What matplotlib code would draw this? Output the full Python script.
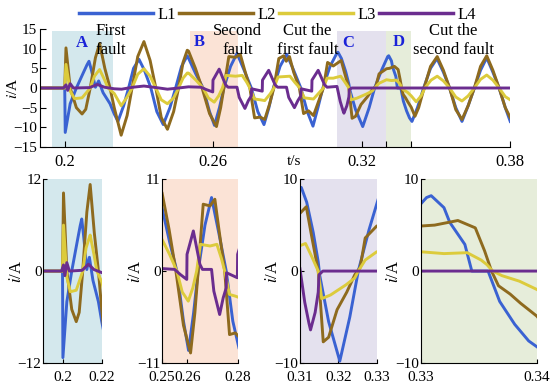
import matplotlib
matplotlib.use('Agg')
import matplotlib.pyplot as plt

plt.rcParams['font.family'] = ['Liberation Serif', 'DejaVu Serif']
plt.rcParams['mathtext.fontset'] = 'stix'
plt.rcParams['font.size'] = 11

# currents: (t in s, i in A)
t_L1 = [0.19, 0.2, 0.2002, 0.2022, 0.2047, 0.2076, 0.209, 0.2098, 0.2108, 0.2124, 0.2137, 0.2155, 0.2183, 0.22,
        0.2215, 0.2238, 0.2258, 0.2278, 0.23, 0.2322, 0.2348, 0.2372, 0.2398, 0.2425, 0.2448, 0.2472, 0.2495,
        0.25, 0.253, 0.2559, 0.2585, 0.2605, 0.2625, 0.2643, 0.267, 0.2696, 0.2725, 0.2754, 0.278, 0.2805,
        0.2825, 0.2843, 0.287, 0.2897, 0.2925, 0.2954, 0.298, 0.3003, 0.3023, 0.3043, 0.3072, 0.31, 0.3104,
        0.3118, 0.3135, 0.3148, 0.3152, 0.3175, 0.3204, 0.323, 0.3252, 0.328, 0.3305, 0.3309, 0.332, 0.3325,
        0.3338, 0.3344, 0.3358, 0.3368, 0.3381, 0.3393, 0.3403, 0.3425, 0.345, 0.3478, 0.3504, 0.353, 0.3555,
        0.358, 0.3605, 0.363, 0.3655, 0.368, 0.3705, 0.373, 0.3755, 0.378, 0.38]
i_L1 = [0, 0, -11.3, -4, 0, 4, 5.9, 6.8, 4.5, 0.2, 1.8, -1.2, -4, -6.6,
        -8.5, -4.5, 0, 5, 7.3, 4.5, 0, -6, -9.3, -5, 0, 5.5, 8.2,
        7.6, 3.5, 0, -6, -9.5, -5, 0, 5.5, 8.8, 4.5, 0, -6, -9.3,
        -5, 0, 5.5, 8.6, 4.5, 0, -6, -9.7, -5, 0, 5.5, 8.9, 9.1,
        7.5, 4.2, 1, -0.5, -5.5, -9.8, -5, 0, 4.5, 8.0, 8.2, 6.9, 5.3,
        2.9, 0, 0, -3.3, -5.8, -7.6, -8.5, -5, 0, 5, 7.5, 4, 0,
        -5, -8.5, -4.5, 0, 4.5, 7.7, 4, 0, -5, -8.5]

t_L2 = [0.19, 0.2, 0.2005, 0.2022, 0.2047, 0.207, 0.2085, 0.2103, 0.2124, 0.2141, 0.2162, 0.2183, 0.22,
        0.2228, 0.2252, 0.2272, 0.2295, 0.232, 0.2345, 0.2368, 0.239, 0.2415, 0.244, 0.246, 0.2478, 0.2495,
        0.25, 0.2528, 0.2555, 0.2585, 0.2613, 0.263, 0.2643, 0.2663, 0.269, 0.2709, 0.2725, 0.2748, 0.2767,
        0.279, 0.2808, 0.2828, 0.2845, 0.2865, 0.2885, 0.2895, 0.2908, 0.2925, 0.2948, 0.2965, 0.2985, 0.3005,
        0.3025, 0.3045, 0.3062, 0.3085, 0.3117, 0.313, 0.3148, 0.3161, 0.3175, 0.3197, 0.3222, 0.3243, 0.3257,
        0.327, 0.33, 0.3312, 0.3332, 0.3347, 0.3355, 0.3361, 0.3367, 0.3377, 0.3386, 0.34, 0.3415, 0.343,
        0.3452, 0.3478, 0.3505, 0.353, 0.3555, 0.358, 0.3605, 0.363, 0.3655, 0.368, 0.3705, 0.373, 0.3755,
        0.378, 0.38]
i_L2 = [0, 0, 10.2, 0, -5, -6.6, -5.4, 0, 7.7, 11.3, 5, 0, -5,
        -12, -7, 0, 8, 11.8, 7, 0, -7.5, -10.5, -6, 0, 6.5, 9.6,
        9.4, 5, 0, -6.5, -9.8, -5, 0, 8, 7.8, 8.6, 5, 0, -7.6,
        -7.4, -8, -4, 0, 7.5, 8.2, 6.8, 8, 4, 0, -6.5, -5.8, -7,
        -3.5, 0, 6.5, 5.6, 7, 4, 0, -7.7, -7.2, -4.2, -2.3, -0.4, 0.4,
        3.6, 4.9, 5, 5.5, 4.7, 2.2, 0, -1.6, -2.5, -3.5, -4.9, -7.2, -5,
        0, 5.5, 8, 4.5, 0, -5.5, -8, -4.5, 0, 5.5, 8.2, 4.5, 0,
        -5, -7.5]

t_L3 = [0.19, 0.2, 0.2005, 0.2022, 0.204, 0.207, 0.209, 0.2103, 0.212, 0.2132, 0.2141, 0.216, 0.2175, 0.22,
        0.2228, 0.225, 0.2272, 0.2295, 0.232, 0.2345, 0.2368, 0.239, 0.2415, 0.244, 0.246, 0.2478, 0.2495,
        0.25, 0.253, 0.2559, 0.258, 0.2604, 0.2622, 0.2637, 0.2652, 0.269, 0.2717, 0.2735, 0.2748, 0.2767,
        0.279, 0.2808, 0.283, 0.2845, 0.2862, 0.291, 0.293, 0.295, 0.2968, 0.3005, 0.3028, 0.3045, 0.306,
        0.3085, 0.3115, 0.3132, 0.3148, 0.3157, 0.318, 0.322, 0.3243, 0.3252, 0.327, 0.33, 0.332, 0.334,
        0.3352, 0.3357, 0.3362, 0.337, 0.3385, 0.34, 0.342, 0.344, 0.3455, 0.348, 0.3505, 0.353, 0.3555,
        0.358, 0.3605, 0.363, 0.3655, 0.368, 0.3705, 0.373, 0.3755, 0.378, 0.38]
i_L3 = [0, 0, 6, -0.8, -2.7, -2.5, -1, 0, 3, 4, 4.7, 2.2, 0, -1.4,
        -4.5, -2.5, 0, 3.5, 4.9, 3, 0, -3, -4, -2.5, 0, 2.5, 3.8,
        3.8, 2, 0, -2.5, -3.6, -2, 0, 3.2, 3, 3.2, 1.5, 0, -2.8,
        -3, -3.2, -1.5, 0, 2.8, 3, 1.4, 0, -2.5, -2.8, -1.2, 0, 2.5,
        2.5, 3, 1.5, 0, -3, -2.6, -1.5, -0.75, 0, 1.2, 2.1, 1.9, 2,
        1.2, 0.7, 0, -0.5, -1.1, -2, -3.5, -2, 0, 2, 3, 1.8, 0,
        -2.3, -3.3, -2, 0, 2.2, 3.3, 2, 0, -2.2, -3]

t_L4 = [0.19, 0.1995, 0.2005, 0.2012, 0.2022, 0.2035, 0.21, 0.2132, 0.216, 0.22, 0.223, 0.2275, 0.232,
        0.237, 0.2415, 0.246, 0.25, 0.255, 0.2572, 0.2598, 0.2599, 0.2624, 0.265, 0.266, 0.2696, 0.2705,
        0.2728, 0.2742, 0.2754, 0.2755, 0.2798, 0.2799, 0.2824, 0.285, 0.286, 0.2896, 0.2905, 0.2928, 0.2942,
        0.2954, 0.2955, 0.2998, 0.2999, 0.3024, 0.305, 0.306, 0.31, 0.3113, 0.3124, 0.3128, 0.314, 0.3148,
        0.315, 0.316, 0.38]
i_L4 = [0, 0, 0.8, -0.6, 1.1, 0, 0.1, 0.9, 0.2, -0.2, -0.3, 0.2, 0.5,
        0.1, -0.3, 0, 0.3, 0.2, -0.4, -1, 2, 4.8, 0.8, 0.2, 0.2, -2.4,
        -5.2, -3.2, -2, -0.2, -0.8, 2, 4.5, 0.8, 0.2, 0.2, -2.4, -5, -3.2,
        -2, -0.2, -0.8, 2, 4.5, 0.8, 0.2, 0.4, -3.4, -5.7, -6.4, -4.5, -2.3,
        -0.4, 0, 0]

names = ['L1', 'L2', 'L3', 'L4']
colors = ['#3a62d2', '#8e6a1e', '#dccb3c', '#6b2d8f']
series = [(t_L1, i_L1), (t_L2, i_L2), (t_L3, i_L3), (t_L4, i_L4)]

# shaded intervals A, B, C, D
spans = [(0.195, 0.2195), (0.2505, 0.27), (0.31, 0.33), (0.33, 0.34)]
span_colors = ['#d4e8ed', '#fbe3d6', '#e4e1ee', '#e6edda']

fig = plt.figure(figsize=(5.5, 3.92), dpi=100)

ax = fig.add_axes([0.0727, 0.625, 0.855, 0.301])
for (a, b), c in zip(spans, span_colors):
    ax.fill_between([a, b], -15, 14.5, color=c, lw=0, zorder=0)
lines = []
for (t, i), c, n in zip(series, colors, names):
    ln, = ax.plot(t, i, color=c, lw=2.1, label=n)
    lines.append(ln)
ax.set_xlim(0.19, 0.38)
ax.set_ylim(-15, 15)
ax.set_xticks([0.2, 0.26, 0.32, 0.33, 0.34, 0.38])
ax.set_xticklabels(['0.2', '0.26', '0.32', '', '', '0.38'])
ax.set_yticks([-15, -10, -5, 0, 5, 10, 15])
ax.tick_params(direction='in', length=4, pad=2, labelsize=11)
ax.tick_params(axis='x', pad=5, labelsize=12)
ax.spines['top'].set_visible(False)
ax.spines['right'].set_visible(False)
ax.set_ylabel('$i$/A', fontsize=11)
ax.yaxis.set_label_coords(-0.042, 0.5)

for lab, tx, ty in [('A', 0.2069, 11.4), ('B', 0.2545, 11.7), ('C', 0.3146, 11.4), ('D', 0.3348, 11.7)]:
    ax.text(tx, ty, lab, color='#1a22d8', fontweight='bold', fontsize=12, ha='center', va='center')
for lab, tx in [('First\nfault', 0.2186), ('Second\nfault', 0.2698),
                ('Cut the\nfirst fault', 0.2981), ('Cut the\nsecond fault', 0.357)]:
    ax.text(tx, 16.6, lab, ha='center', va='top', fontsize=12, linespacing=1.3)

fig.text(0.535, 0.588, 't/s', ha='center', va='center', fontsize=11)

fig.legend(lines, names, loc='center', bbox_to_anchor=(0.505, 0.962), ncol=4, frameon=False,
           handlelength=4.4, handletextpad=0.3, columnspacing=0.2, fontsize=12)
for lh in fig.legends[0].get_lines():
    lh.set_linewidth(2.5)

# zoomed panels
panels = [
    ([0.078, 0.074, 0.107, 0.469], 0, (0.19, 0.22), 12, [0.2, 0.22], ['0.2', '0.22']),
    ([0.2945, 0.074, 0.138, 0.469], 1, (0.25, 0.28), 11, [0.25, 0.26, 0.28], ['0.25', '0.26', '0.28']),
    ([0.545, 0.074, 0.14, 0.469], 2, (0.31, 0.33), 10, [0.31, 0.32, 0.33], ['0.31', '0.32', '0.33']),
    ([0.765, 0.074, 0.211, 0.469], 3, (0.33, 0.34), 10, [0.33, 0.34], ['0.33', '0.34']),
]
for pos, k, xl, ym, xt, xtl in panels:
    bx = fig.add_axes(pos)
    bx.set_facecolor(span_colors[k])
    for (t, i), c in zip(series, colors):
        bx.plot(t, i, color=c, lw=2.1)
    bx.set_xlim(*xl)
    bx.set_ylim(-ym, ym)
    bx.set_xticks(xt)
    bx.set_xticklabels(xtl)
    bx.set_yticks([-ym, 0, ym])
    bx.tick_params(direction='in', length=3, pad=1, labelsize=11)
    bx.tick_params(axis='x', pad=6)
    bx.spines['top'].set_visible(False)
    bx.spines['right'].set_visible(False)
    bx.set_ylabel('$i$/A', labelpad=-5, fontsize=12)

fig.savefig('out.png', dpi=100)
